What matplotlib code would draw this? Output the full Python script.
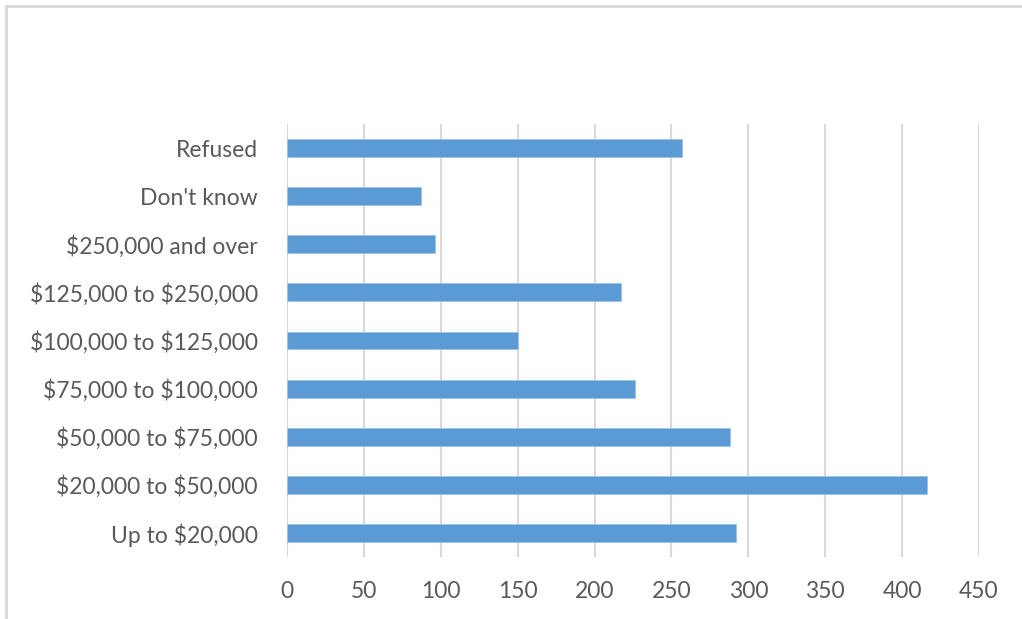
import matplotlib.pyplot as plt
from matplotlib.lines import Line2D

# Respondents by household income
categories = [
    "Up to $20,000",
    "$20,000 to $50,000",
    "$50,000 to $75,000",
    "$75,000 to $100,000",
    "$100,000 to $125,000",
    "$125,000 to $250,000",
    "$250,000 and over",
    "Don't know",
    "Refused",
]
counts = [292, 416, 288, 226, 150, 217, 96, 87, 257]
x_ticks = [0, 50, 100, 150, 200, 250, 300, 350, 400, 450]

plt.rcParams['font.family'] = ['Lato', 'DejaVu Sans']
plt.rcParams['text.parse_math'] = False

fig = plt.figure(figsize=(10.22, 6.19), dpi=100)
ax = fig.add_axes([287 / 1022, 1 - 557 / 619, (979 - 287) / 1022, (557 - 124) / 619])

ax.barh(range(len(categories)), counts, height=0.37, color='#5B9BD5',
        edgecolor='#9DC3E6', linewidth=0.6, zorder=3)

ax.set_xlim(0, 450)
ax.set_ylim(-0.5, len(categories) - 0.5)
ax.set_xticks(x_ticks)
ax.set_yticks(range(len(categories)))
ax.set_yticklabels(categories)
ax.grid(axis='x', color='#D9D9D9', linewidth=1.5, zorder=0)
ax.tick_params(axis='both', length=0, labelsize=16.5, labelcolor='#595959')
ax.tick_params(axis='x', pad=17)
ax.tick_params(axis='y', pad=21)
for s in ax.spines.values():
    s.set_visible(False)

# chart frame (top and left edges)
fig.add_artist(Line2D([6 / 1022, 6 / 1022], [0, 1 - 6 / 619], color='#D9D9D9', linewidth=2))
fig.add_artist(Line2D([6 / 1022, 1], [1 - 6 / 619, 1 - 6 / 619], color='#D9D9D9', linewidth=2))

fig.savefig('out.png', dpi=100)
